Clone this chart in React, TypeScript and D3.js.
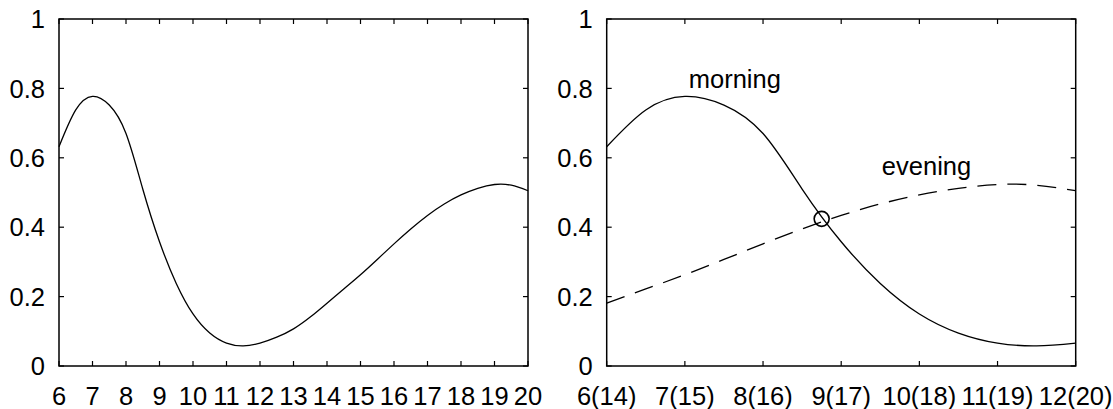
import React from "react";
import * as d3 from "d3";

// Hourly profile, hours 6..20 in half-hour steps
const hours = [6, 6.5, 7, 7.5, 8, 8.5, 9, 9.5, 10, 10.5, 11, 11.5, 12, 12.5, 13, 13.5, 14, 14.5, 15, 15.5, 16, 16.5, 17, 17.5, 18, 18.5, 19, 19.5, 20];
const values = [0.632, 0.738, 0.777, 0.752, 0.67, 0.51, 0.358, 0.238, 0.15, 0.095, 0.066, 0.058, 0.066, 0.083, 0.107, 0.141, 0.181, 0.222, 0.263, 0.307, 0.352, 0.395, 0.434, 0.467, 0.493, 0.512, 0.523, 0.521, 0.505];

const leftTicks = [6, 7, 8, 9, 10, 11, 12, 13, 14, 15, 16, 17, 18, 19, 20];
const rightTicks = [6, 7, 8, 9, 10, 11, 12];
const rightTickLabels = ["6(14)", "7(15)", "8(16)", "9(17)", "10(18)", "11(19)", "12(20)"];
const yTicks = [0, 0.2, 0.4, 0.6, 0.8, 1];
const yTickLabels = ["0", "0.2", "0.4", "0.6", "0.8", "1"];
const eveningOffset = 8;
const crossing = { hour: 8.75, value: 0.424 };
const seriesLabels = [
  { text: "morning", hour: 7.05, value: 0.8 },
  { text: "evening", hour: 9.52, value: 0.55 },
];

const W = 1113;
const H = 409;
const top = 19;
const bottom = 366;
const FONT = "'Liberation Sans', Arial, Helvetica, sans-serif";
const FS = 25.5;

type Pt = { h: number; v: number };
const data: Pt[] = hours.map((h, i) => ({ h, v: values[i] }));

function Panel({ x0, x1, domain, ticks, labels, children }: any) {
  const x = d3.scaleLinear().domain(domain).range([x0, x1]);
  const y = d3.scaleLinear().domain([0, 1]).range([bottom, top]);
  const tl = 5;
  return (
    <g>
      {ticks.map((t: number, i: number) => (
        <g key={"x" + i}>
          <line x1={x(t)} x2={x(t)} y1={bottom} y2={bottom - tl} stroke="#000" strokeWidth={1.2} />
          <line x1={x(t)} x2={x(t)} y1={top} y2={top + tl} stroke="#000" strokeWidth={1.2} />
          <text x={x(t)} y={405} textAnchor="middle" fontFamily={FONT} fontSize={FS}>
            {labels[i]}
          </text>
        </g>
      ))}
      {yTicks.map((t, i) => (
        <g key={"y" + i}>
          <line x1={x0} x2={x0 + tl} y1={y(t)} y2={y(t)} stroke="#000" strokeWidth={1.2} />
          <line x1={x1} x2={x1 - tl} y1={y(t)} y2={y(t)} stroke="#000" strokeWidth={1.2} />
          <text x={x0 - 14} y={y(t)} dy="0.36em" textAnchor="end" fontFamily={FONT} fontSize={FS}>
            {yTickLabels[i]}
          </text>
        </g>
      ))}
      <rect x={x0} y={top} width={x1 - x0} height={bottom - top} fill="none" stroke="#000" strokeWidth={1.5} />
      {children(x, y)}
    </g>
  );
}

export default function App() {
  const lineFor = (x: any, y: any, off: number) =>
    d3
      .line<Pt>()
      .x((d) => x(d.h - off))
      .y((d) => y(d.v))
      .curve(d3.curveNatural);

  const morning = data.filter((d) => d.h <= 12);
  const evening = data.filter((d) => d.h >= 14);

  return (
    <svg width={W} height={H} style={{ position: "absolute", left: 0, top: 0, background: "#fff" }}>
      <Panel x0={59} x1={528} domain={[6, 20]} ticks={leftTicks} labels={leftTicks.map(String)}>
        {(x: any, y: any) => (
          <path d={lineFor(x, y, 0)(data) || ""} fill="none" stroke="#000" strokeWidth={1.3} />
        )}
      </Panel>
      <Panel x0={606.7} x1={1075.7} domain={[6, 12]} ticks={rightTicks} labels={rightTickLabels}>
        {(x: any, y: any) => (
          <g>
            <path d={lineFor(x, y, 0)(morning) || ""} fill="none" stroke="#000" strokeWidth={1.3} />
            <path
              d={lineFor(x, y, eveningOffset)(evening) || ""}
              fill="none"
              stroke="#000"
              strokeWidth={1.3}
              strokeDasharray="19,11"
            />
            <circle cx={x(crossing.hour)} cy={y(crossing.value)} r={7.5} fill="none" stroke="#000" strokeWidth={1.6} />
            {seriesLabels.map((l, i) => (
              <text key={i} x={x(l.hour)} y={y(l.value)} fontFamily={FONT} fontSize={FS}>
                {l.text}
              </text>
            ))}
          </g>
        )}
      </Panel>
    </svg>
  );
}
